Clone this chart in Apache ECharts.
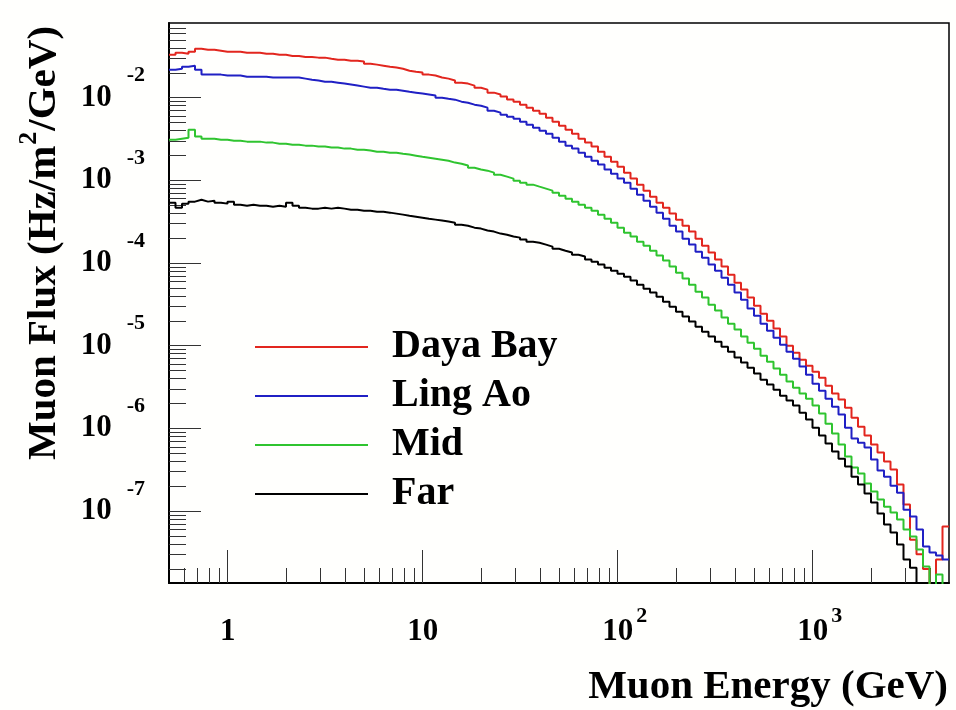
<!DOCTYPE html>
<html>
<head>
<meta charset="UTF-8">
<title>Muon flux vs energy</title>
<script src="https://cdn.jsdelivr.net/npm/echarts@6/dist/echarts.min.js"></script>
<style>
  html, body { margin: 0; padding: 0; background: #fffffd; }
  #chart { width: 956px; height: 710px; }
</style>
</head>
<body>
<div id="chart"></div>
<script>
// histogram binning: 30 log bins per decade from 0.5 GeV up to 5000 GeV
const eMin = 0.5;
const binsPerDecade = 30;
const nBins = 120;

// flux per bin (Hz/m^2/GeV), 0 = empty bin
const dayaBay = [
  3.3e-2, 3.5e-2, 3.4e-2, 3.6e-2, 3.9e-2, 3.8e-2, 3.8e-2, 3.7e-2, 3.6e-2, 3.6e-2,
  3.6e-2, 3.5e-2, 3.5e-2, 3.5e-2, 3.4e-2, 3.4e-2, 3.3e-2, 3.3e-2, 3.2e-2, 3.2e-2,
  3.1e-2, 3.1e-2, 3.05e-2, 3.05e-2, 2.96e-2, 2.88e-2, 2.88e-2, 2.80e-2, 2.80e-2, 2.73e-2,
  2.58e-2, 2.51e-2, 2.44e-2, 2.37e-2, 2.31e-2, 2.24e-2, 2.12e-2, 2.06e-2, 2.01e-2, 1.90e-2,
  1.85e-2, 1.75e-2, 1.70e-2, 1.61e-2, 1.52e-2, 1.48e-2, 1.40e-2, 1.32e-2, 1.25e-2, 1.15e-2,
  1.09e-2, 1.03e-2, 9.5e-3, 8.95e-3, 8.23e-3, 7.57e-3, 6.96e-3, 6.41e-3, 5.73e-3, 5.13e-3,
  4.59e-3, 4.10e-3, 3.67e-3, 3.19e-3, 2.86e-3, 2.56e-3, 2.22e-3, 1.93e-3, 1.68e-3, 1.46e-3,
  1.24e-3, 1.05e-3, 8.87e-4, 7.51e-4, 6.35e-4, 5.37e-4, 4.67e-4, 3.96e-4, 3.35e-4, 2.83e-4,
  2.40e-4, 1.97e-4, 1.62e-4, 1.34e-4, 1.10e-4, 9.05e-5, 7.24e-5, 5.79e-5, 4.77e-5, 3.82e-5,
  3.05e-5, 2.44e-5, 2.01e-5, 1.61e-5, 1.29e-5, 1.00e-5, 8.25e-6, 6.79e-6, 5.74e-6, 4.86e-6,
  4.11e-6, 3.29e-6, 2.64e-6, 2.23e-6, 1.78e-6, 1.35e-6, 1.05e-6, 8.18e-7, 6.37e-7, 5.10e-7,
  3.97e-7, 3.18e-7, 2.09e-7, 1.2e-7, 4.5e-8, 3.0e-8, 2.0e-8, 0, 2.6e-8, 6.5e-8
];
const lingAo = [
  2.18e-2, 2.24e-2, 2.37e-2, 2.44e-2, 2.18e-2, 1.90e-2, 1.90e-2, 1.90e-2, 1.85e-2, 1.85e-2,
  1.85e-2, 1.79e-2, 1.79e-2, 1.79e-2, 1.79e-2, 1.75e-2, 1.75e-2, 1.75e-2, 1.75e-2, 1.75e-2,
  1.70e-2, 1.65e-2, 1.61e-2, 1.56e-2, 1.56e-2, 1.52e-2, 1.48e-2, 1.44e-2, 1.40e-2, 1.36e-2,
  1.32e-2, 1.32e-2, 1.28e-2, 1.25e-2, 1.25e-2, 1.215e-2, 1.18e-2, 1.15e-2, 1.12e-2, 1.09e-2,
  1.06e-2, 1.0e-2, 9.72e-3, 9.46e-3, 8.95e-3, 8.70e-3, 8.23e-3, 8.00e-3, 7.57e-3, 6.96e-3,
  6.59e-3, 6.23e-3, 5.89e-3, 5.57e-3, 5.13e-3, 4.72e-3, 4.34e-3, 3.99e-3, 3.67e-3, 3.28e-3,
  2.94e-3, 2.63e-3, 2.42e-3, 2.16e-3, 1.93e-3, 1.73e-3, 1.55e-3, 1.35e-3, 1.205e-3, 1.05e-3,
  9.38e-4, 7.94e-4, 6.71e-4, 5.68e-4, 4.81e-4, 4.07e-4, 3.44e-4, 2.83e-4, 2.40e-4, 1.97e-4,
  1.67e-4, 1.37e-4, 1.16e-4, 9.57e-5, 8.09e-5, 6.66e-5, 5.48e-5, 4.39e-5, 3.61e-5, 2.81e-5,
  2.31e-5, 1.85e-5, 1.52e-5, 1.25e-5, 1.03e-5, 8.48e-6, 6.98e-6, 5.59e-6, 4.47e-6, 3.48e-6,
  2.86e-6, 2.29e-6, 1.83e-6, 1.47e-6, 1.02e-6, 7.53e-7, 6.73e-7, 5.86e-7, 4.20e-7, 3.09e-7,
  2.61e-7, 2.03e-7, 1.67e-7, 1.04e-7, 8.58e-8, 5.97e-8, 3.72e-8, 3.15e-8, 2.90e-8, 2.59e-8
];
const midSite = [
  3.10e-3, 3.19e-3, 3.28e-3, 4.10e-3, 3.38e-3, 3.19e-3, 3.19e-3, 3.10e-3, 3.10e-3, 3.02e-3,
  3.02e-3, 2.94e-3, 2.94e-3, 2.94e-3, 2.86e-3, 2.86e-3, 2.78e-3, 2.78e-3, 2.70e-3, 2.70e-3,
  2.63e-3, 2.63e-3, 2.56e-3, 2.56e-3, 2.49e-3, 2.49e-3, 2.42e-3, 2.42e-3, 2.35e-3, 2.35e-3,
  2.29e-3, 2.22e-3, 2.22e-3, 2.16e-3, 2.16e-3, 2.10e-3, 2.05e-3, 1.99e-3, 1.93e-3, 1.88e-3,
  1.83e-3, 1.78e-3, 1.73e-3, 1.64e-3, 1.59e-3, 1.51e-3, 1.42e-3, 1.35e-3, 1.31e-3, 1.24e-3,
  1.17e-3, 1.11e-3, 1.05e-3, 9.92e-4, 9.38e-4, 8.87e-4, 8.39e-4, 7.94e-4, 7.51e-4, 7.10e-4,
  6.53e-4, 6.01e-4, 5.53e-4, 5.08e-4, 4.67e-4, 4.30e-4, 3.85e-4, 3.44e-4, 3.08e-4, 2.68e-4,
  2.33e-4, 2.09e-4, 1.81e-4, 1.62e-4, 1.41e-4, 1.23e-4, 1.07e-4, 9.05e-5, 7.65e-5, 6.48e-5,
  5.48e-5, 4.51e-5, 3.82e-5, 3.14e-5, 2.66e-5, 2.19e-5, 1.85e-5, 1.57e-5, 1.29e-5, 1.09e-5,
  9.22e-6, 7.59e-6, 6.42e-6, 5.29e-6, 4.47e-6, 3.68e-6, 3.11e-6, 2.64e-6, 2.29e-6, 1.89e-6,
  1.51e-6, 1.14e-6, 8.65e-7, 6.37e-7, 4.56e-7, 3.36e-7, 2.84e-7, 2.15e-7, 1.72e-7, 1.38e-7,
  1.13e-7, 9.59e-8, 7.89e-8, 5.97e-8, 4.92e-8, 3.42e-8, 2.13e-8, 0, 1.71e-8, 0
];
const farSite = [
  5.37e-4, 4.67e-4, 5.23e-4, 5.53e-4, 5.84e-4, 5.53e-4, 5.68e-4, 5.37e-4, 5.23e-4, 5.53e-4,
  5.08e-4, 4.94e-4, 5.08e-4, 4.94e-4, 4.94e-4, 4.81e-4, 4.94e-4, 4.81e-4, 5.37e-4, 4.94e-4,
  4.67e-4, 4.55e-4, 4.55e-4, 4.67e-4, 4.55e-4, 4.67e-4, 4.55e-4, 4.42e-4, 4.42e-4, 4.30e-4,
  4.30e-4, 4.18e-4, 4.18e-4, 4.07e-4, 3.96e-4, 3.85e-4, 3.74e-4, 3.64e-4, 3.54e-4, 3.44e-4,
  3.35e-4, 3.26e-4, 3.17e-4, 3.08e-4, 2.91e-4, 2.83e-4, 2.68e-4, 2.61e-4, 2.47e-4, 2.40e-4,
  2.27e-4, 2.20e-4, 2.09e-4, 2.03e-4, 1.92e-4, 1.81e-4, 1.76e-4, 1.67e-4, 1.58e-4, 1.49e-4,
  1.41e-4, 1.34e-4, 1.26e-4, 1.20e-4, 1.10e-4, 1.04e-4, 9.57e-5, 8.80e-5, 8.09e-5, 7.44e-5,
  6.85e-5, 6.13e-5, 5.48e-5, 4.90e-5, 4.39e-5, 3.92e-5, 3.41e-5, 2.97e-5, 2.58e-5, 2.25e-5,
  1.96e-5, 1.70e-5, 1.48e-5, 1.29e-5, 1.12e-5, 9.75e-6, 8.48e-6, 7.18e-6, 6.25e-6, 5.43e-6,
  4.60e-6, 3.89e-6, 3.39e-6, 2.94e-6, 2.49e-6, 2.17e-6, 1.89e-6, 1.55e-6, 1.28e-6, 1.02e-6,
  8.18e-7, 6.55e-7, 5.24e-7, 4.31e-7, 3.45e-7, 2.61e-7, 2.09e-7, 1.63e-7, 1.27e-7, 9.33e-8,
  6.87e-8, 5.50e-8, 3.94e-8, 2.59e-8, 2.07e-8, 0, 0, 0, 0, 0
];

const seriesNames = ['Daya Bay', 'Ling Ao', 'Mid', 'Far'];
const seriesColors = ['#e2261e', '#2020c4', '#2fc42f', '#000000'];

// axis ticks (log axes)
const xMajor = [1, 10, 100, 1000];
const xMinor = [0.6, 0.7, 0.8, 0.9, 2, 3, 4, 5, 6, 7, 8, 9,
  20, 30, 40, 50, 60, 70, 80, 90, 200, 300, 400, 500, 600, 700, 800, 900,
  2000, 3000, 4000];
const yMajor = [1e-7, 1e-6, 1e-5, 1e-4, 1e-3, 1e-2];
const yMinor = [2e-8, 3e-8, 4e-8, 5e-8, 6e-8, 7e-8, 8e-8, 9e-8,
  2e-7, 3e-7, 4e-7, 5e-7, 6e-7, 7e-7, 8e-7, 9e-7,
  2e-6, 3e-6, 4e-6, 5e-6, 6e-6, 7e-6, 8e-6, 9e-6,
  2e-5, 3e-5, 4e-5, 5e-5, 6e-5, 7e-5, 8e-5, 9e-5,
  2e-4, 3e-4, 4e-4, 5e-4, 6e-4, 7e-4, 8e-4, 9e-4,
  2e-3, 3e-3, 4e-3, 5e-3, 6e-3, 7e-3, 8e-3, 9e-3,
  2e-2, 3e-2, 4e-2, 5e-2, 6e-2, 7e-2];

const xRange = [0.5, 5000];
const yRange = [1.35e-8, 0.08];

const edges = [];
for (let i = 0; i <= nBins; i++) edges.push(eMin * Math.pow(10, i / binsPerDecade));

// empty bins drop below the frame like ROOT does
function toSteps(vals) {
  const pts = vals.map((v, i) => [edges[i], v > 0 ? v : 1e-9]);
  pts.push([edges[nBins], pts[nBins - 1][1]]);
  return pts;
}

const serif = '"Liberation Serif", "Times New Roman", serif';
const tickStyle = { color: '#333', width: 1 };

const chart = echarts.init(document.getElementById('chart'), null, { renderer: 'canvas' });

chart.setOption({
  backgroundColor: '#fffffd',
  animation: false,
  grid: {
    left: 169, top: 23, width: 780, height: 560,
    show: true, borderColor: '#000', borderWidth: 1.5,
    containLabel: false, outerBoundsMode: 'none'
  },
  legend: {
    data: seriesNames,
    orient: 'vertical',
    left: 250, top: 322,
    icon: 'rect',
    itemWidth: 113, itemHeight: 2,
    itemGap: 9,
    selectedMode: false,
    textStyle: {
      fontFamily: serif, fontWeight: 'bold', fontSize: 40, lineHeight: 40,
      color: '#000', padding: [0, 0, 0, 19]
    }
  },
  xAxis: [
    {
      type: 'log', logBase: 10, min: xRange[0], max: xRange[1], position: 'bottom',
      axisLine: { onZero: false, lineStyle: { color: '#000', width: 2 } },
      axisTick: { inside: true, length: 33, customValues: xMajor, lineStyle: tickStyle },
      axisLabel: {
        customValues: xMajor, margin: 22, color: '#000',
        formatter: v => {
          const n = Math.round(Math.log10(v));
          if (n === 0) return '{c|1}';
          if (n === 1) return '{c|10}';
          return '{b|10}{s|' + n + '}';
        },
        rich: {
          c: { fontFamily: serif, fontWeight: 'bold', fontSize: 31, lineHeight: 54, color: '#000' },
          b: { fontFamily: serif, fontWeight: 'bold', fontSize: 31, lineHeight: 54, color: '#000', padding: [0, 0, 0, 14] },
          s: { fontFamily: serif, fontWeight: 'bold', fontSize: 22, lineHeight: 22, color: '#000', padding: [0, 0, 32, 3] }
        }
      },
      splitLine: { show: false }
    },
    {
      type: 'log', logBase: 10, min: xRange[0], max: xRange[1], position: 'bottom',
      axisLine: { show: false, onZero: false },
      axisTick: { inside: true, length: 15, customValues: xMinor, lineStyle: tickStyle },
      axisLabel: { show: false },
      splitLine: { show: false }
    }
  ],
  yAxis: [
    {
      type: 'log', logBase: 10, min: yRange[0], max: yRange[1], position: 'left',
      axisLine: { onZero: false, lineStyle: { color: '#000', width: 2 } },
      axisTick: { inside: true, length: 32, customValues: yMajor, lineStyle: tickStyle },
      axisLabel: {
        customValues: yMajor, margin: 24, color: '#000',
        formatter: v => '{b|10}{s|' + Math.round(Math.log10(v)) + '}',
        rich: {
          b: { fontFamily: serif, fontWeight: 'bold', fontSize: 31, lineHeight: 31, color: '#000' },
          s: { fontFamily: serif, fontWeight: 'bold', fontSize: 22, lineHeight: 22, color: '#000', padding: [0, 0, 44, 15] }
        }
      },
      splitLine: { show: false }
    },
    {
      type: 'log', logBase: 10, min: yRange[0], max: yRange[1], position: 'left',
      axisLine: { show: false, onZero: false },
      axisTick: { inside: true, length: 17, customValues: yMinor, lineStyle: tickStyle },
      axisLabel: { show: false },
      splitLine: { show: false }
    }
  ],
  graphic: [
    {
      type: 'text', x: 948, y: 687,
      style: {
        text: 'Muon Energy (GeV)', font: 'bold 41px ' + serif, fill: '#000',
        align: 'right', verticalAlign: 'middle'
      }
    },
    {
      type: 'text', x: 44, y: 243, rotation: Math.PI / 2,
      style: {
        text: '{t|Muon Flux (Hz/m}{s|2}{t|/GeV)}',
        align: 'center', verticalAlign: 'middle',
        rich: {
          t: { fontFamily: serif, fontWeight: 'bold', fontSize: 41, lineHeight: 41, fill: '#000' },
          s: { fontFamily: serif, fontWeight: 'bold', fontSize: 26, lineHeight: 26, fill: '#000', padding: [0, 1, 30, 1] }
        }
      }
    }
  ],
  series: [dayaBay, lingAo, midSite, farSite].map((vals, k) => ({
    name: seriesNames[k],
    type: 'line',
    step: 'end',
    data: toSteps(vals),
    symbol: 'none',
    clip: true,
    itemStyle: { color: seriesColors[k] },
    lineStyle: { color: seriesColors[k], width: 2 }
  }))
});
</script>
</body>
</html>
